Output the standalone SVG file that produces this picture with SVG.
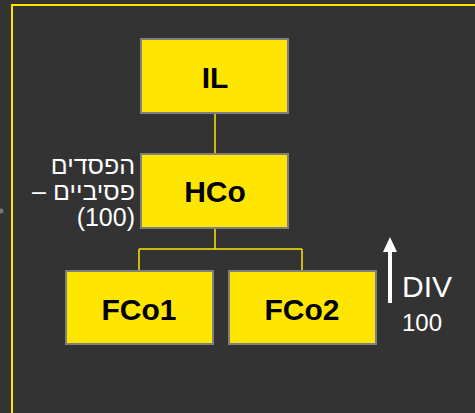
<svg xmlns="http://www.w3.org/2000/svg" width="475" height="413" viewBox="0 0 475 413">
<style>
.box{fill:#FFE600;stroke:#7F7F7F;stroke-width:2}
.lbl{font-family:"Liberation Sans",Arial,sans-serif;font-weight:bold;font-size:30px;fill:#000;text-anchor:middle}
.wt{font-family:"Liberation Sans",Arial,sans-serif;fill:#FFFFFF}
.conn{stroke:#FFE600;stroke-width:1.5;fill:none}
</style>
<rect x="0" y="0" width="475" height="413" fill="#333333"/>
<path d="M12,413 V5 H475" fill="none" stroke="#FFE600" stroke-width="2"/>
<circle cx="1" cy="211" r="2.5" fill="#777777"/>
<g id="connectors">
<path class="conn" d="M215,113 V154"/>
<path class="conn" d="M215,228 V249 M139,249 H302 M139,249 V271 M302,249 V271"/>
</g>
<g id="IL">
<rect class="box" x="141" y="39" width="147" height="74"/>
<text class="lbl" x="215" y="88">IL</text>
</g>
<g id="HCo">
<rect class="box" x="141" y="154" width="147" height="74"/>
<text class="lbl" x="215" y="202">HCo</text>
</g>
<g id="FCo1">
<rect class="box" x="66" y="271" width="147" height="73"/>
<text class="lbl" x="139" y="320">FCo1</text>
</g>
<g id="FCo2">
<rect class="box" x="229" y="271" width="147" height="73"/>
<text class="lbl" x="302" y="320">FCo2</text>
</g>
<g id="loss-label">
<text class="wt" font-size="25" x="135" y="174" direction="rtl" text-anchor="start">הפסדים</text>
<text class="wt" font-size="25" x="135" y="200" direction="rtl" text-anchor="start">פסיביים –</text>
<text class="wt" font-size="25" x="135" y="226" text-anchor="end">(100)</text>
</g>
<g id="div">
<line x1="390" y1="303" x2="390" y2="250" stroke="#FFFFFF" stroke-width="4"/>
<polygon points="383,252 390,237 397,252" fill="#FFFFFF"/>
<text class="wt" font-size="30" x="402" y="297">DIV</text>
<text class="wt" font-size="24" x="402" y="331">100</text>
</g>
</svg>
